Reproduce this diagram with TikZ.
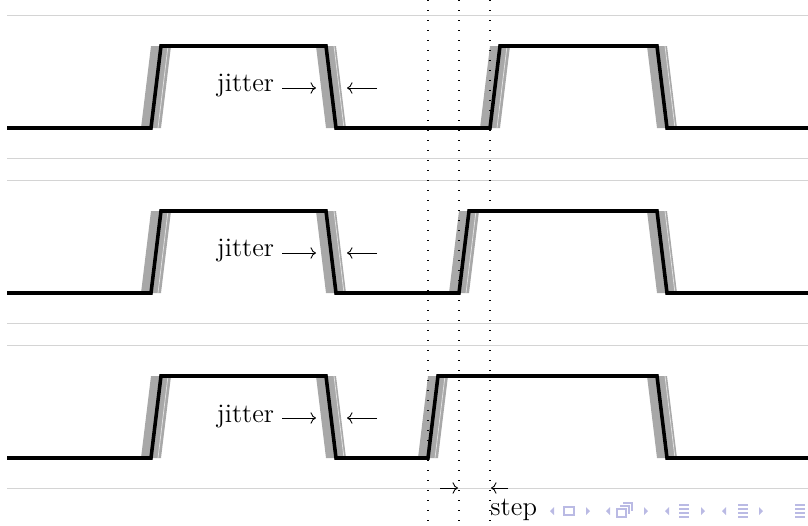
\documentclass[tikz,border=0pt]{standalone}
\usepackage{amsmath}
\usepackage{tikz}
\usetikzlibrary{positioning}
\usetikzlibrary{arrows.meta}

\definecolor{navblue}{RGB}{186,186,228}

\tikzset{
    sig/.style={line width=1.6pt},
    band/.style={fill=black!34},
    seam/.style={draw=black!12, line width=0.35pt},
    rule/.style={draw=black!17, line width=0.45pt},
    guide/.style={dash pattern=on 0.5pt off 4pt, line width=0.5pt},
    navtri/.style={fill=navblue, draw=none},
    navbox/.style={draw=navblue, line width=0.6pt},
}

\begin{document}
\begin{tikzpicture}[x=0.45pt, y=-0.45pt, font=\fontsize{12}{14}\selectfont]
    \useasboundingbox (0,0) rectangle (808,525);

    % three traces, the second rising edge comes earlier each time
    \foreach \i/\r in {0/490, 1/459, 2/428} {
        \begin{scope}[shift={(0,165*\i)}]
            \draw[rule] (7,15) -- (808,15);
            \draw[rule] (7,158) -- (808,158);
            % jitter around each edge
            \fill[band] (141,128) -- (161,128) -- (171,46) -- (151,46) -- cycle;
            \fill[band] (316,46) -- (336,46) -- (346,128) -- (326,128) -- cycle;
            \fill[band] (\r-10,128) -- (\r+10,128) -- (\r+20,46) -- (\r,46) -- cycle;
            \fill[band] (647,46) -- (667,46) -- (677,128) -- (657,128) -- cycle;
            \draw[seam] (158,128) -- (168,46);
            \draw[seam] (334,46) -- (344,128);
            \draw[seam] (\r+7,128) -- (\r+17,46);
            \draw[seam] (665,46) -- (675,128);
            \draw[sig] (7,128) -- (151,128) -- (161,46) -- (326,46) -- (336,128)
                -- (\r,128) -- (\r+10,46) -- (657,46) -- (667,128) -- (808,128);
            \node[anchor=east] (jit\i) at (282,86) {jitter};
            \coordinate (jl\i) at (316,88);
            \coordinate (jo\i) at (377,88);
            \coordinate (jr\i) at (347,88);
            \draw[->] (jit\i.east |- jl\i) -- (jl\i);
            \draw[->] (jo\i) -- (jr\i);
        \end{scope}
    }

    % where the rising edge lands
    \draw[guide] (428,0) -- (428,525);
    \draw[guide] (459,0) -- (459,525);
    \draw[guide] (490,0) -- (490,525);

    \coordinate (sa) at (440,488);
    \coordinate (sb) at (458,488);
    \coordinate (sc) at (508,488);
    \coordinate (sd) at (491,488);
    \draw[->] (sa) -- (sb);
    \draw[->] (sc) -- (sd);
    \node[anchor=base west, inner sep=0pt] (step) at (490,515) {step};

    % navigation symbols
    \foreach \x in {552,608,667,724} {
        \fill[navtri] (\x-2,511) -- (\x+2,507) -- (\x+2,515) -- cycle;
    }
    \foreach \x in {588,646,703,761} {
        \fill[navtri] (\x+2,511) -- (\x-2,507) -- (\x-2,515) -- cycle;
    }
    \draw[navbox] (564,507) rectangle (574,515);
    \draw[navbox] (617,509) rectangle (626,517);
    \draw[navbox] (620,506) -- (629,506) -- (629,514);
    \draw[navbox] (623,503) -- (632,503) -- (632,511);
    \foreach \x in {684,743,800} {
        \foreach \h in {505,509,513,517} {
            \draw[navbox] (\x-5,\h) -- (\x+5,\h);
        }
    }
\end{tikzpicture}
\end{document}
